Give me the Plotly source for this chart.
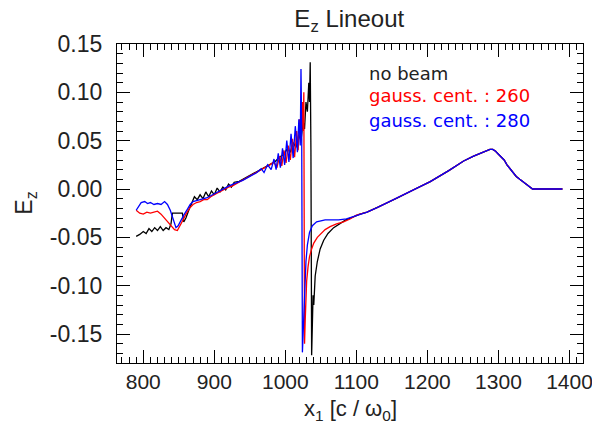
import plotly.graph_objects as go

# ---- data ----
black_x = [790, 795, 800, 804, 808, 812, 816, 820, 824, 828, 832, 836, 839, 841, 848, 855, 857, 860, 864, 868,
           872, 876, 880, 884, 888, 892, 896, 900, 904, 908, 912, 916, 920, 924, 928, 935, 945, 955, 965, 975,
           985, 992, 998, 1003, 1007, 1011, 1015, 1019, 1022, 1025, 1027, 1029, 1031, 1033, 1034, 1035, 1036,
           1037, 1038, 1039, 1040, 1042, 1045, 1049, 1054, 1060, 1068, 1076, 1085, 1095, 1105, 1115]
black_y = [-0.049, -0.047, -0.044, -0.046, -0.041, -0.044, -0.040, -0.043, -0.039, -0.043, -0.040, -0.042,
           -0.036, -0.025, -0.025, -0.025, -0.034, -0.030, -0.022, -0.014, -0.008, -0.011, -0.006, -0.010,
           -0.003, -0.008, -0.002, -0.006, 0.001, -0.003, 0.002, -0.001, 0.005, 0.002, 0.007, 0.008, 0.012,
           0.016, 0.020, 0.024, 0.028, 0.033, 0.036, 0.042, 0.038, 0.048, 0.043, 0.056, 0.050, 0.070, 0.062,
           0.090, 0.080, 0.110, 0.090, 0.131, 0.040, -0.172, -0.140, -0.110, -0.120, -0.090, -0.075, -0.062,
           -0.053, -0.046, -0.040, -0.036, -0.032, -0.029, -0.026, -0.024]

red_x = [790, 795, 800, 805, 810, 815, 820, 825, 830, 835, 840, 844, 848, 852, 856, 860, 865, 870, 875, 880,
         885, 890, 895, 900, 905, 910, 915, 920, 925, 930, 940, 950, 960, 970, 978, 984, 988, 992, 995, 998,
         1001, 1004, 1007, 1010, 1013, 1016, 1018, 1020, 1022, 1024, 1025, 1026, 1027, 1028, 1029, 1030,
         1032, 1034, 1037, 1040, 1045, 1050, 1056, 1063, 1072, 1082, 1091, 1100, 1108, 1115]
red_y = [-0.022, -0.025, -0.026, -0.024, -0.025, -0.024, -0.023, -0.026, -0.030, -0.034, -0.038, -0.042,
         -0.043, -0.038, -0.032, -0.026, -0.020, -0.016, -0.014, -0.013, -0.011, -0.011, -0.008, -0.006,
         -0.004, -0.002, 0.000, 0.002, 0.003, 0.005, 0.009, 0.013, 0.017, 0.021, 0.025, 0.028, 0.022, 0.034,
         0.024, 0.040, 0.027, 0.045, 0.030, 0.052, 0.033, 0.060, 0.040, 0.072, 0.048, 0.090, 0.060, 0.100,
         -0.160, -0.135, -0.110, -0.095, -0.080, -0.070, -0.062, -0.056, -0.050, -0.046, -0.042, -0.039,
         -0.036, -0.034, -0.031, -0.027, -0.025, -0.024]

blue_x = [790, 793, 797, 802, 806, 810, 815, 820, 825, 830, 834, 838, 842, 846, 849, 853, 857, 862, 866, 870,
          875, 880, 885, 890, 895, 900, 905, 910, 920, 930, 940, 950, 960, 966, 970, 975, 980, 984, 987, 990,
          993, 996, 999, 1002, 1005, 1008, 1011, 1014, 1017, 1019, 1021, 1022, 1023, 1024, 1025, 1026, 1027,
          1029, 1031, 1034, 1038, 1044, 1050, 1056, 1065, 1075, 1086, 1095, 1105, 1115]
blue_y = [-0.022, -0.018, -0.014, -0.013, -0.015, -0.014, -0.016, -0.015, -0.016, -0.013, -0.016, -0.022,
          -0.032, -0.040, -0.038, -0.032, -0.027, -0.021, -0.016, -0.013, -0.012, -0.011, -0.010, -0.009,
          -0.007, -0.005, -0.003, -0.001, 0.003, 0.006, 0.009, 0.013, 0.017, 0.021, 0.017, 0.025, 0.020,
          0.031, 0.020, 0.037, 0.022, 0.042, 0.025, 0.050, 0.028, 0.057, 0.032, 0.065, 0.038, 0.072, 0.045,
          0.124, 0.060, -0.169, -0.150, -0.120, -0.095, -0.075, -0.058, -0.045, -0.038, -0.034, -0.033,
          -0.032, -0.032, -0.032, -0.031, -0.029, -0.026, -0.024]

# shared tail (all three runs coincide here)
tail_x = [1130, 1157, 1180, 1204, 1230, 1251, 1265, 1275, 1282, 1288, 1292, 1296, 1300, 1304, 1308, 1312,
          1316, 1320, 1325, 1330, 1335, 1340, 1345, 1348, 1390]
tail_y = [-0.019, -0.0096, -0.001, 0.0076, 0.019, 0.029, 0.034, 0.037, 0.039, 0.041, 0.041, 0.039, 0.036,
          0.033, 0.030, 0.025, 0.021, 0.017, 0.013, 0.010, 0.007, 0.004, 0.001, 0.000, 0.000]

series_names = ["no beam", "gauss. cent. : 260", "gauss. cent. : 280"]
series_colors = ["#000000", "#ff0000", "#0000ff"]

x_ticks = [800, 900, 1000, 1100, 1200, 1300, 1400]
y_ticks = [-0.15, -0.10, -0.05, 0.00, 0.05, 0.10, 0.15]

# ---- figure ----
fig = go.Figure()
all_x = [black_x, red_x, blue_x]
all_y = [black_y, red_y, blue_y]
for xs, ys, name, col in zip(all_x, all_y, series_names, series_colors):
    fig.add_trace(go.Scatter(x=xs + tail_x, y=ys + tail_y, mode="lines", name=name,
                             line=dict(color=col, width=1.3), showlegend=False))

FONT = "Liberation Sans, Arial, sans-serif"
TXT = "#222222"
axis_common = dict(showline=True, linecolor="black", linewidth=1.3, mirror="ticks",
                   ticks="inside", ticklen=13, tickwidth=1.3, tickcolor="black",
                   showgrid=False, zeroline=False, automargin=False,
                   ticklabeloverflow="allow")

fig.update_xaxes(range=[763, 1419], tickvals=x_ticks, ticktext=[str(v) for v in x_ticks],
                 minor=dict(ticks="inside", ticklen=6, dtick=10, tick0=0, tickcolor="black", showgrid=False),
                 ticklabelstandoff=0, tickfont=dict(family=FONT, size=21, color=TXT),
                 **axis_common)
fig.update_yaxes(range=[-0.18, 0.15], tickvals=y_ticks, ticktext=[f"{v:.2f}" for v in y_ticks],
                 minor=dict(ticks="inside", ticklen=6, dtick=0.01, tick0=0, tickcolor="black", showgrid=False),
                 ticklabelstandoff=9, tickfont=dict(family=FONT, size=23, color=TXT),
                 **axis_common)

# axis titles
fig.add_annotation(x=0.5, y=-0.147, xref="paper", yref="paper", showarrow=False,
                   text="x<sub>1</sub> [c / ω<sub>0</sub>]", xanchor="center", yanchor="middle",
                   font=dict(family=FONT, size=22, color=TXT))
fig.add_annotation(x=-0.197, y=0.5, xref="paper", yref="paper", showarrow=False, textangle=-90,
                   text="E<sub>z</sub>", xanchor="center", yanchor="middle",
                   font=dict(family=FONT, size=23, color=TXT))

legend_y = [0.909, 0.837, 0.759]
for name, col, yy in zip(series_names, series_colors, legend_y):
    fig.add_annotation(x=0.536, y=yy, xref="paper", yref="paper", text=name, showarrow=False,
                       xanchor="left", yanchor="middle",
                       font=dict(family="DejaVu Sans", size=18, color=col if col != "#000000" else TXT))

fig.update_layout(
    width=592, height=423,
    margin=dict(l=117, r=9, t=44, b=60),
    paper_bgcolor="white", plot_bgcolor="white",
    title=dict(text="E<sub>z</sub> Lineout", x=0.59, xanchor="center", y=0.955, yanchor="middle",
               font=dict(family=FONT, size=24, color=TXT)),
)

fig.write_html("out.html", config={"displayModeBar": False},
               post_script="document.body.style.margin='0';")
